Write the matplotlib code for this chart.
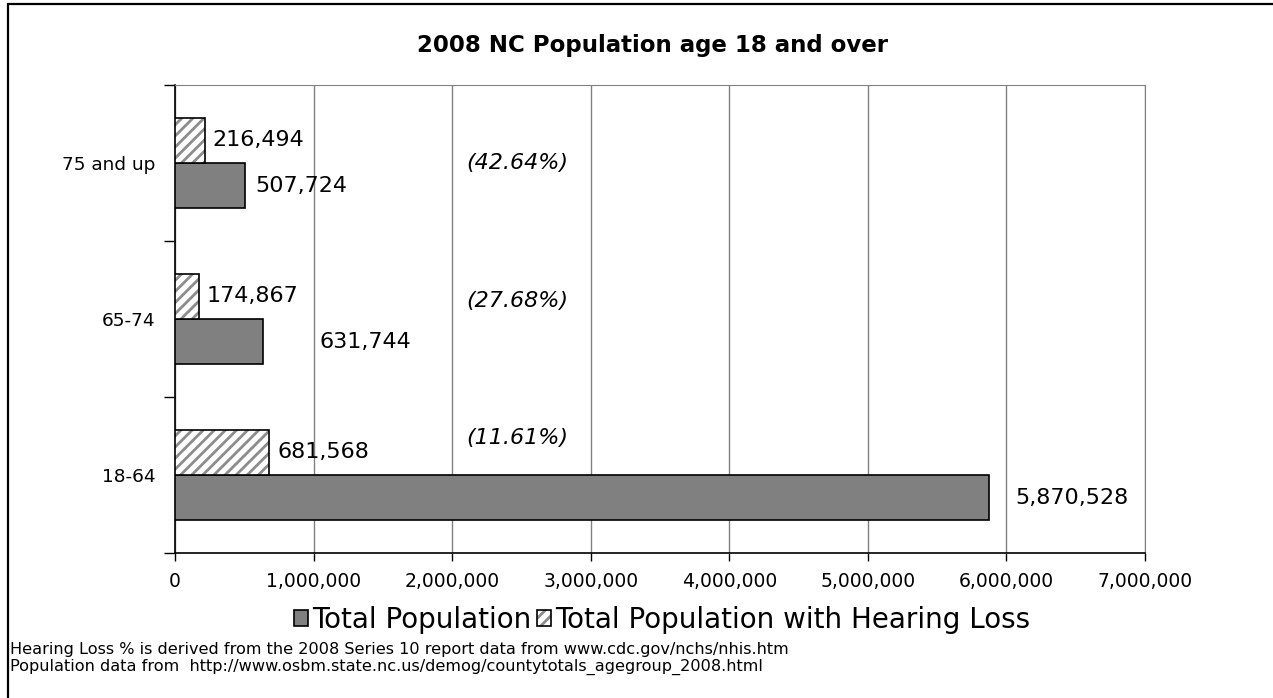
import numpy as np
import matplotlib.pyplot as plt
from matplotlib.patches import Rectangle, Patch
from matplotlib.ticker import FuncFormatter, FixedLocator

plt.rcParams['font.family'] = ['DejaVu Sans']
plt.rcParams['hatch.linewidth'] = 2.0

# --- DATA ---
age_groups = ["18-64", "65-74", "75 and up"]
total_pop = [5870528, 631744, 507724]
hearing_loss = [681568, 174867, 216494]

# label nudges (data units) to the right of each bar end
total_label_offset = [190000, 414000, 69000]
hearing_label_offset = [61000, 56000, 51000]
pct_label_y = [0.24, 1.115, 2.0]

GRAY = '#808080'
HATCH_GRAY = '#8c8c8c'

# --- PLOT ---
fig = plt.figure(figsize=(12.73, 6.98), dpi=100)
ax = fig.add_axes([0.1375, 0.2077, 0.762, 0.6705])

y = np.arange(len(age_groups))
bar_h = 0.29

ax.barh(y - bar_h / 2, total_pop, height=bar_h, color=GRAY,
        edgecolor='black', linewidth=1.2, zorder=3)
# hatch takes the edge colour, so the black outline goes on a second layer
ax.barh(y + bar_h / 2, hearing_loss, height=bar_h, color='white', hatch='///',
        edgecolor=HATCH_GRAY, linewidth=0, zorder=3)
ax.barh(y + bar_h / 2, hearing_loss, height=bar_h, fill=False,
        edgecolor='black', linewidth=1.2, zorder=4)

for i in range(len(age_groups)):
    ax.text(total_pop[i] + total_label_offset[i], y[i] - bar_h / 2,
            f"{total_pop[i]:,}", va='center', ha='left', fontsize=16)
    ax.text(hearing_loss[i] + hearing_label_offset[i], y[i] + bar_h / 2,
            f"{hearing_loss[i]:,}", va='center', ha='left', fontsize=16)
    pct = hearing_loss[i] / total_pop[i] * 100
    ax.text(2470000, pct_label_y[i], f"({pct:.2f}%)", va='center', ha='center',
            fontsize=16, style='italic')

ax.set_xlim(0, 7000000)
ax.set_ylim(-0.5, 2.5)
ax.set_xticks(np.arange(0, 7000001, 1000000))
ax.xaxis.set_major_formatter(FuncFormatter(lambda v, p: f"{int(v):,}"))
ax.tick_params(axis='x', length=6, width=1, labelsize=13.5, pad=8, direction='out')

# category boundaries get the tick marks, centres get the labels
ax.yaxis.set_major_locator(FixedLocator([-0.5, 0.5, 1.5, 2.5]))
ax.yaxis.set_major_formatter(FuncFormatter(lambda v, p: ""))
ax.yaxis.set_minor_locator(FixedLocator(y))
ax.set_yticklabels(age_groups, minor=True)
ax.tick_params(axis='y', which='major', length=8, width=1, direction='out')
ax.tick_params(axis='y', which='minor', length=0, labelsize=13.3, pad=14)

ax.grid(axis='x', color=GRAY, linewidth=1, zorder=0)
ax.spines['top'].set_color(GRAY)
ax.spines['right'].set_color(GRAY)
ax.spines['left'].set_linewidth(1.2)
ax.spines['bottom'].set_linewidth(1.2)

fig.text(0.5125, 0.935, "2008 NC Population age 18 and over", ha='center',
         va='center', fontsize=16.5, fontweight='bold')

handles = [Patch(facecolor=GRAY, edgecolor='black', linewidth=1.2),
           (Patch(facecolor='white', edgecolor=HATCH_GRAY, hatch='///', linewidth=0),
            Patch(fill=False, edgecolor='black', linewidth=1.2))]
fig.legend(handles, ['Total Population', 'Total Population with Hearing Loss'],
           loc='center', bbox_to_anchor=(0.52, 0.112), ncol=2, frameon=False,
           fontsize=20, handlelength=0.5, handleheight=0.5, handletextpad=0.15,
           columnspacing=0.2, bbox_transform=fig.transFigure)

fig.text(0.008, 0.069, "Hearing Loss % is derived from the 2008 Series 10 report data from www.cdc.gov/nchs/nhis.htm",
         fontsize=11.6, va='center')
fig.text(0.008, 0.044, "Population data from  http://www.osbm.state.nc.us/demog/countytotals_agegroup_2008.html",
         fontsize=11.6, va='center')

# outer chart frame, running off the right and bottom edges
fig.patches.append(Rectangle((0.0059, -0.05), 1.05, 1.0436, transform=fig.transFigure,
                             fill=False, edgecolor='black', linewidth=1.6))

fig.savefig("out.png", dpi=100)
